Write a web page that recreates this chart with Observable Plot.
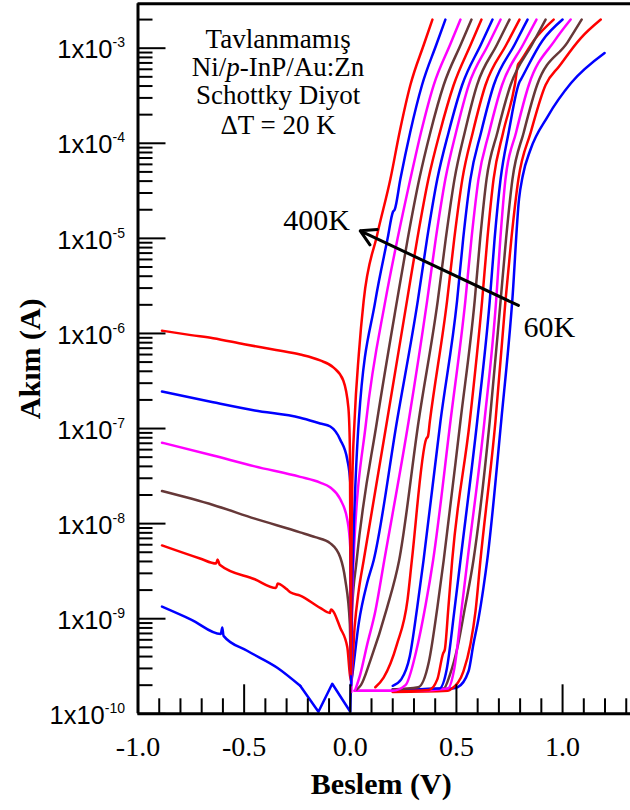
<!DOCTYPE html>
<html><head><meta charset="utf-8">
<script src="https://cdn.jsdelivr.net/npm/d3@7"></script>
<script src="https://cdn.jsdelivr.net/npm/@observablehq/plot@0.6"></script>
<style>body{margin:0;background:#fff;} svg{display:block;background:#fff}</style>
</head><body><div id="chart"></div>
<script>
// ---- axis / tick data ----
const xMajor = [-1.0, -0.5, 0.0, 0.5, 1.0];
const xLabels = ["-1.0", "-0.5", "0.0", "0.5", "1.0"];
const xMinor = [-0.9,-0.8,-0.7,-0.6,-0.4,-0.3,-0.2,-0.1,0.1,0.2,0.3,0.4,0.6,0.7,0.8,0.9,1.1,1.2,1.3];
const yMajor = [1e-10,1e-9,1e-8,1e-7,1e-6,1e-5,1e-4,1e-3];
const yExp = ["-10","-9","-8","-7","-6","-5","-4","-3"];
const yMinor = [];
for (const d of yMajor) for (let m = 2; m <= 9; m++) { const v = d * m; if (v < 2.93e-3) yMinor.push(v); }
const xDomain = [-1.0, 1.32];
const yDomain = [1e-10, 2.93e-3];

// ---- curves: [bias V, current A] ----
const temps = [400,380,360,340,320,300,280,260,240,220,200,180,160,140,120,100,80,60];
const curveColors = ["#ff0000","#0000ff","#ff00ff","#663838","#ff0000","#0000ff","#ff00ff","#663838","#ff0000","#0000ff","#ff00ff","#663838","#ff0000","#0000ff","#ff00ff","#663838","#ff0000","#0000ff"];

const c400 = [[-0.887,1.07e-6],[-0.75,9.6e-7],[-0.646,8.9e-7],[-0.5,7.7e-7],[-0.35,6.7e-7],[-0.236,6.0e-7],[-0.142,5.2e-7],[-0.08,4.4e-7],[-0.033,3.2e-7],[-0.009,1.66e-7],[-0.002,6.5e-8],[0.001,3e-9],[0.003,2.6e-10],[0.005,3e-9],[0.01,3e-8],[0.02,1.2e-7],[0.04,6e-7],[0.063,2.2e-6],[0.127,1.1e-5],[0.189,4.2e-5],[0.232,1.3e-4],[0.283,4.1e-4],[0.347,1.1e-3],[0.387,2e-3]];
const c380 = [[-0.887,2.45e-7],[-0.646,1.89e-7],[-0.45,1.55e-7],[-0.236,1.3e-7],[-0.142,1.13e-7],[-0.094,1.05e-7],[-0.047,7.6e-8],[-0.014,4.7e-8],[0.0,2.7e-8],[0.002,2e-9],[0.004,2.0e-10],[0.007,1.5e-9],[0.012,4.1e-9],[0.04,1.2e-7],[0.118,2.2e-6],[0.176,1e-5],[0.201,1.9e-5],[0.209,2.0e-5],[0.236,4.2e-5],[0.282,1.3e-4],[0.338,4.1e-4],[0.406,1.1e-3],[0.448,2e-3]];
const c360 = [[-0.887,7.1e-8],[-0.646,5.2e-8],[-0.45,4.0e-8],[-0.236,3.1e-8],[-0.142,2.7e-8],[-0.094,2.4e-8],[-0.047,1.8e-8],[-0.014,1.1e-8],[0.0,5.6e-9],[0.003,1e-9],[0.005,1.7e-10],[0.008,1.2e-9],[0.015,4.1e-9],[0.075,1.2e-7],[0.165,2.2e-6],[0.223,1e-5],[0.283,4.2e-5],[0.333,1.3e-4],[0.393,4.1e-4],[0.471,1.1e-3],[0.519,2e-3]];
const c340 = [[-0.887,2.2e-8],[-0.646,1.57e-8],[-0.45,1.13e-8],[-0.236,8.1e-9],[-0.165,7.2e-9],[-0.094,6.2e-9],[-0.047,4.4e-9],[-0.024,2.6e-9],[-0.002,8.8e-10],[0.003,2.8e-10],[0.008,1.2e-9],[0.03,4.1e-9],[0.126,1.2e-7],[0.22,2.2e-6],[0.271,1e-5],[0.325,4.2e-5],[0.377,1.3e-4],[0.44,4.1e-4],[0.521,1.1e-3],[0.571,2e-3]];
const c320 = [[-0.887,5.9e-9],[-0.708,4.3e-9],[-0.632,3.8e-9],[-0.625,4.2e-9],[-0.615,3.7e-9],[-0.45,2.6e-9],[-0.35,2.1e-9],[-0.342,2.35e-9],[-0.33,2.3e-9],[-0.3,2.05e-9],[-0.283,1.9e-9],[-0.236,1.75e-9],[-0.142,1.3e-9],[-0.096,1.15e-9],[-0.091,1.25e-9],[-0.047,8e-10],[-0.014,5e-10],[-0.002,2.6e-10],[0.004,2.2e-10],[0.02,8e-10],[0.04,2e-9],[0.063,4.1e-9],[0.173,1.2e-7],[0.267,2.2e-6],[0.316,1e-5],[0.368,4.2e-5],[0.422,1.3e-4],[0.487,4.1e-4],[0.568,1.1e-3],[0.618,2e-3]];
const c300rev = [[-0.887,1.34e-9],[-0.75,9.8e-10],[-0.61,6.9e-10],[-0.603,8.1e-10],[-0.597,6.6e-10],[-0.486,4.6e-10],[-0.344,3.05e-10],[-0.236,1.97e-10]];
const c300zig = [[-0.236,1.97e-10],[-0.15,1.05e-10],[-0.085,2.07e-10],[0.0,1.05e-10],[0.003,2.0e-10]];
const c300 = [[0.003,2.0e-10],[0.01,2.6e-10],[0.04,9e-10],[0.08,2.4e-9],[0.11,4.1e-9],[0.22,1.2e-7],[0.318,2.2e-6],[0.362,1e-5],[0.41,4.2e-5],[0.463,1.3e-4],[0.527,4.1e-4],[0.616,1.1e-3],[0.67,2e-3]];
const c280 = [[0.022,1.75e-10],[0.047,2.6e-10],[0.08,5.4e-10],[0.118,1.2e-9],[0.16,4.1e-9],[0.275,1.2e-7],[0.362,2.2e-6],[0.403,1e-5],[0.448,4.2e-5],[0.498,1.3e-4],[0.558,4.1e-4],[0.651,1.1e-3],[0.708,2e-3]];
const c260 = [[0.03,1.8e-10],[0.05,2.0e-10],[0.094,3.6e-10],[0.173,1.3e-9],[0.23,4.1e-9],[0.322,1.2e-7],[0.412,2.2e-6],[0.45,1e-5],[0.491,4.2e-5],[0.539,1.3e-4],[0.597,4.1e-4],[0.692,1.1e-3],[0.75,2e-3]];
const c240 = [[0.118,1.9e-10],[0.157,2.4e-10],[0.22,5.4e-10],[0.27,1.6e-9],[0.29,4.1e-9],[0.358,7.8e-8],[0.366,8.3e-8],[0.375,1.2e-7],[0.456,2.2e-6],[0.49,1e-5],[0.528,4.2e-5],[0.577,1.3e-4],[0.637,4.1e-4],[0.736,1.1e-3],[0.797,2e-3]];
const c220 = [[0.2,1.97e-10],[0.24,2.3e-10],[0.28,4e-10],[0.315,1.3e-9],[0.345,4.1e-9],[0.425,1.2e-7],[0.503,2.2e-6],[0.532,1e-5],[0.566,4.2e-5],[0.616,1.3e-4],[0.676,4.1e-4],[0.775,1.1e-3],[0.835,2e-3]];
const c200 = [[0.02,1.75e-10],[0.2,1.75e-10],[0.26,2.0e-10],[0.31,4.5e-10],[0.355,1.4e-9],[0.39,4.1e-9],[0.472,1.2e-7],[0.542,2.2e-6],[0.571,1e-5],[0.604,4.2e-5],[0.654,1.3e-4],[0.715,4.1e-4],[0.815,1.1e-3],[0.877,2e-3]];
const c180 = [[0.2,1.8e-10],[0.32,1.9e-10],[0.37,3.5e-10],[0.41,1.3e-9],[0.44,4.1e-9],[0.519,1.2e-7],[0.586,2.2e-6],[0.612,1e-5],[0.642,4.2e-5],[0.693,1.3e-4],[0.755,4.1e-4],[0.857,1.1e-3],[0.92,2e-3]];
const c160 = [[0.2,1.72e-10],[0.37,1.78e-10],[0.41,2.3e-10],[0.437,4.3e-10],[0.445,4.7e-10],[0.462,1.3e-9],[0.48,4.1e-9],[0.563,1.2e-7],[0.621,2.2e-6],[0.646,1e-5],[0.675,4.2e-5],[0.72,1.3e-4],[0.775,4.1e-4],[0.79,6.7e-4],[0.798,7.1e-4],[0.87,1.25e-3],[0.958,2e-3]];
const c140 = [[0.2,1.8e-10],[0.42,1.85e-10],[0.455,3e-10],[0.49,1.2e-9],[0.519,4.1e-9],[0.598,1.2e-7],[0.657,2.2e-6],[0.68,1e-5],[0.708,4.2e-5],[0.746,1.3e-4],[0.797,4.4e-4],[0.804,4.7e-4],[0.905,1.2e-3],[1.0,2e-3]];
const c120 = [[0.02,1.75e-10],[0.3,1.75e-10],[0.46,1.85e-10],[0.49,3e-10],[0.525,1.3e-9],[0.552,4.1e-9],[0.632,1.2e-7],[0.687,2.2e-6],[0.707,1e-5],[0.731,4.2e-5],[0.781,1.3e-4],[0.841,4.1e-4],[0.963,1.2e-3],[1.038,2e-3]];
const c100 = [[0.2,1.8e-10],[0.44,1.85e-10],[0.47,2.6e-10],[0.505,5e-10],[0.54,1.3e-9],[0.58,4.1e-9],[0.657,1.2e-7],[0.708,2.2e-6],[0.734,1e-5],[0.764,4.2e-5],[0.817,1.3e-4],[0.88,4.1e-4],[1.024,1.16e-3],[1.09,2e-3]];
const c80 = [[0.2,1.7e-10],[0.46,1.75e-10],[0.48,1.85e-10],[0.533,2.8e-10],[0.566,5.4e-10],[0.59,1.2e-9],[0.613,4.1e-9],[0.684,1.2e-7],[0.731,2.2e-6],[0.759,1e-5],[0.792,4.2e-5],[0.85,1.3e-4],[0.92,4.1e-4],[0.985,6.5e-4],[1.085,1.27e-3],[1.18,2e-3]];
const c60 = [[0.2,1.75e-10],[0.35,1.8e-10],[0.48,1.85e-10],[0.505,1.9e-10],[0.557,2.8e-10],[0.58,5.4e-10],[0.604,1.0e-9],[0.627,2.1e-9],[0.645,4.1e-9],[0.711,1.2e-7],[0.763,2.2e-6],[0.795,2.6e-5],[0.812,4.5e-5],[0.849,8.6e-5],[0.929,1.9e-4],[1.04,4.3e-4],[1.198,8.9e-4]];

const smoothCurves = [c400,c380,c360,c340,c320,c300,c280,c260,c240,c220,c200,c180,c160,c140,c120,c100,c80,c60];

// ---- annotations (data units) ----
const titleLines = ["Tavlanmamış", "Ni/p-InP/Au:Zn", "Schottky Diyot", "ΔT = 20 K"];
const titleY = [1.0e-3, 5.16e-4, 2.62e-4, 1.26e-4];
const titleX = -0.34;
const tempLabels = [{x: -0.316, y: 1.21e-5, t: "400K"}, {x: 0.816, y: 9.1e-7, t: "60K"}];
const arrowData = [{x1: 0.792, y1: 1.97e-6, x2: 0.047, y2: 1.2e-5}];

const serif = "'Liberation Serif', 'Times New Roman', serif";
const sans = "'Liberation Sans', Arial, sans-serif";
const W = 630, H = 810, mL = 137.5, mR = 0, mT = 3.3, mB = 96.7;
const pw = W - mL - mR, ph = H - mT - mB;

const marks = [];
for (let k = smoothCurves.length - 1; k >= 0; k--) {
  const pts = smoothCurves[k];
  marks.push(Plot.line(pts, {x: d => d[0], y: d => d[1], stroke: curveColors[k], strokeWidth: 2.5, curve: "monotone-x", strokeLinejoin: "round"}));
  if (temps[k] === 300) {
    marks.push(Plot.line(c300rev, {x: d => d[0], y: d => d[1], stroke: curveColors[k], strokeWidth: 2.5, curve: "monotone-x"}));
    marks.push(Plot.line(c300zig, {x: d => d[0], y: d => d[1], stroke: curveColors[k], strokeWidth: 2.5, curve: "linear", strokeLinejoin: "round"}));
  }
}
// frame lines (top, left, bottom)
marks.push(Plot.ruleY([yDomain[1]], {stroke: "#000", strokeWidth: 3}));
marks.push(Plot.ruleY([yDomain[0]], {stroke: "#000", strokeWidth: 3}));
marks.push(Plot.ruleX([xDomain[0]], {stroke: "#000", strokeWidth: 3}));
// ticks (inward)
marks.push(Plot.tickX(xMinor, {x: d => d, insetTop: ph - 15, stroke: "#000", strokeWidth: 2}));
marks.push(Plot.tickX(xMajor, {x: d => d, insetTop: ph - 29, stroke: "#000", strokeWidth: 2}));
marks.push(Plot.tickY(yMinor, {y: d => d, insetRight: pw - 15, stroke: "#000", strokeWidth: 2}));
marks.push(Plot.tickY(yMajor, {y: d => d, insetRight: pw - 28, stroke: "#000", strokeWidth: 2}));
// tick labels
marks.push(Plot.text(xMajor, {x: d => d, text: (d, i) => xLabels[i], frameAnchor: "bottom", dy: 42, lineAnchor: "bottom", textAnchor: "middle", fontFamily: serif, fontSize: 28, fill: "#000"}));
marks.push(Plot.text(yMajor, {y: d => d, text: (d, i) => "1x10^" + yExp[i], frameAnchor: "left", dx: -13, dy: 2, textAnchor: "end", fontFamily: sans, fontSize: 25.5, fill: "#000"}));
// axis titles
marks.push(Plot.text(["Beslem (V)"], {frameAnchor: "bottom", dx: -3, dy: 80, lineAnchor: "bottom", textAnchor: "middle", fontFamily: serif, fontWeight: "bold", fontSize: 30, fill: "#000"}));
marks.push(Plot.text(["Akım (A)"], {frameAnchor: "left", dx: -108, rotate: -90, textAnchor: "middle", fontFamily: serif, fontWeight: "bold", fontSize: 30, fill: "#000"}));
// annotations
marks.push(Plot.text(titleLines, {x: () => titleX, y: (d, i) => titleY[i], text: d => d, lineAnchor: "bottom", textAnchor: "middle", fontFamily: serif, fontSize: 27, fill: "#000"}));
marks.push(Plot.text(tempLabels, {x: "x", y: "y", text: "t", lineAnchor: "bottom", textAnchor: "start", fontFamily: serif, fontSize: 30, fill: "#000"}));
marks.push(Plot.arrow(arrowData, {x1: "x1", y1: "y1", x2: "x2", y2: "y2", stroke: "#000", strokeWidth: 3, headLength: 8.5, headAngle: 60}));

const svg = Plot.plot({
  width: W, height: H,
  marginLeft: mL, marginRight: mR, marginTop: mT, marginBottom: mB,
  x: {domain: xDomain, axis: null},
  y: {type: "log", domain: yDomain, axis: null},
  style: {background: "#fff", overflow: "visible"},
  marks
});

const NS = "http://www.w3.org/2000/svg";
svg.querySelectorAll("text").forEach(t => {
  const s = t.textContent;
  if (s.indexOf("^") >= 0) {
    const [base, exp] = s.split("^");
    t.textContent = base;
    const ts = document.createElementNS(NS, "tspan");
    ts.setAttribute("dy", "-11");
    ts.setAttribute("font-size", "14");
    ts.textContent = exp;
    t.appendChild(ts);
  } else if (s === "Ni/p-InP/Au:Zn") {
    t.textContent = "Ni/";
    const ts = document.createElementNS(NS, "tspan");
    ts.setAttribute("font-style", "italic");
    ts.textContent = "p";
    t.appendChild(ts);
    t.appendChild(document.createTextNode("-InP/Au:Zn"));
  }
});
document.getElementById("chart").appendChild(svg);
</script></body></html>
